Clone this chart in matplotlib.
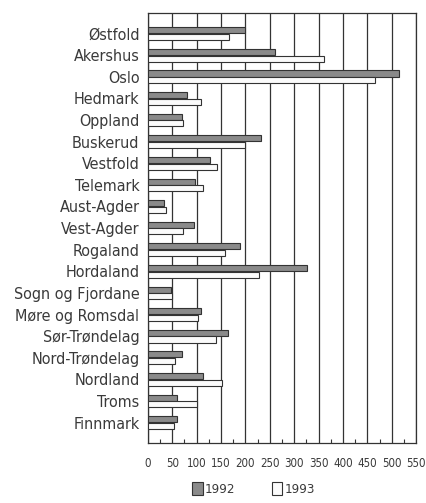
import matplotlib
matplotlib.use("Agg")
import matplotlib.pyplot as plt
from matplotlib import font_manager as fm
import numpy as np

regions = ["Østfold", "Akershus", "Oslo", "Hedmark", "Oppland", "Buskerud",
           "Vestfold", "Telemark", "Aust-Agder", "Vest-Agder", "Rogaland",
           "Hordaland", "Sogn og Fjordane", "Møre og Romsdal", "Sør-Trøndelag",
           "Nord-Trøndelag", "Nordland", "Troms", "Finnmark"]
v1992 = [200, 261, 514, 80, 70, 231, 127, 97, 34, 94, 188, 327, 48, 108, 165, 70, 114, 60, 60]
v1993 = [166, 361, 466, 109, 73, 200, 141, 114, 38, 73, 159, 227, 50, 103, 140, 56, 152, 100, 53]
xticks = [0, 50, 100, 150, 200, 250, 300, 350, 400, 450, 500, 550]
series_names = ["1992", "1993"]

names = {f.name for f in fm.fontManager.ttflist}
if "Liberation Sans Narrow" in names:
    fam, stretch = "Liberation Sans Narrow", "normal"
else:
    fam, stretch = "DejaVu Sans", "condensed"
plt.rcParams["font.family"] = [fam, "DejaVu Sans"]
plt.rcParams["font.stretch"] = stretch

txt = "#3a3a3a"
fig = plt.figure(figsize=(4.26, 5.03), dpi=100)
ax = fig.add_axes([0.347, 0.119, 0.630, 0.855])

y = np.arange(len(regions))
h = 0.28
ax.barh(y - 0.155, v1992, height=h, color="#8a8a8a", edgecolor="#333333",
        linewidth=0.8, zorder=3, label=series_names[0])
ax.barh(y + 0.155, v1993, height=h, color="#fbfbfb", edgecolor="#333333",
        linewidth=0.8, zorder=3, label=series_names[1])

ax.set_xlim(0, 550)
ax.set_ylim(len(regions) - 1 + 0.95, -0.95)
ax.set_xticks(xticks)
ax.set_xticks(np.arange(25, 550, 50), minor=True)
ax.tick_params(axis="x", which="both", direction="in", length=3, width=0.8,
               colors="#333333", labelsize=8.3, pad=10, labelcolor=txt)
ax.tick_params(axis="x", which="major", length=0)
ax.set_yticks(y)
ax.set_yticklabels(regions, fontsize=11.5, color=txt)
ax.tick_params(axis="y", length=0, pad=6)
ax.grid(axis="x", which="major", color="#333333", linewidth=0.9, zorder=0)
for s in ax.spines.values():
    s.set_color("#333333")
    s.set_linewidth(0.9)

leg = fig.legend(loc="center", bbox_to_anchor=(0.595, 0.028), ncol=2, frameon=False,
                 fontsize=9.5, handlelength=0.8, handleheight=1.2,
                 handletextpad=0.15, columnspacing=2.8, labelcolor=txt)
fig.savefig("out.png", dpi=100)
